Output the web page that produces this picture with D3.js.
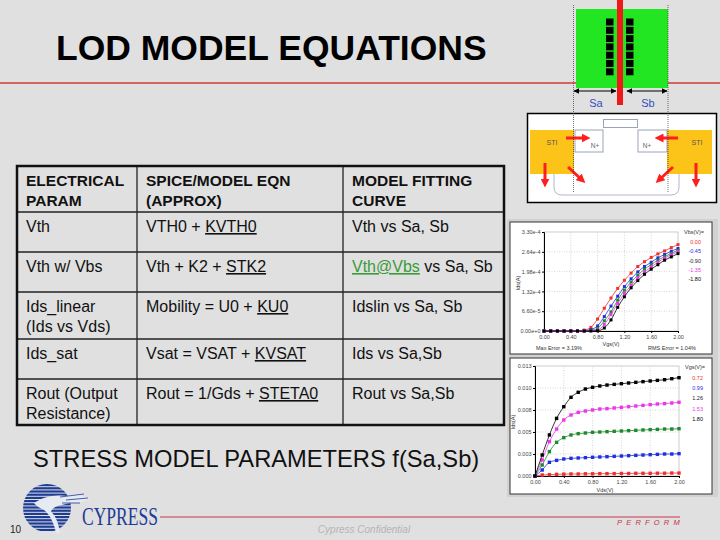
<!DOCTYPE html>
<html>
<head>
<meta charset="utf-8">
<script src="https://cdn.jsdelivr.net/npm/d3@7/dist/d3.min.js"></script>
<style>
  body { margin: 0; background: #e0e0e0; }
  svg { display: block; font-family: "Liberation Sans", Arial, sans-serif; }
</style>
</head>
<body>
<script>
// ---- table content ----
var tableHead = [["ELECTRICAL", "PARAM"], ["SPICE/MODEL EQN", "(APPROX)"], ["MODEL FITTING", "CURVE"]];
var paramCol = [["Vth"], ["Vth w/ Vbs"], ["Ids_linear", "(Ids vs Vds)"], ["Ids_sat"], ["Rout (Output", "Resistance)"]];
var eqnBase = ["VTH0 + ", "Vth + K2 + ", "Mobility = U0 + ", "Vsat = VSAT + ", "Rout = 1/Gds + "];
var eqnParam = ["KVTH0", "STK2", "KU0", "KVSAT", "STETA0"];
var fitLink = ["", "Vth@Vbs", "", "", ""];
var fitText = ["Vth vs Sa, Sb", " vs Sa, Sb", "Idslin vs Sa, Sb", "Ids vs Sa,Sb", "Rout vs Sa,Sb"];

// ---- chart 1: Ids vs Vgs (Ids in units of 1e-4 A) ----
var vgs = [0.0, 0.1, 0.2, 0.3, 0.4, 0.5, 0.6, 0.7, 0.8, 0.9, 1.0, 1.1, 1.2, 1.3, 1.4, 1.5, 1.6, 1.7, 1.8, 1.9, 2.0];
var vbsLabels = ["0.00", "-0.45", "-0.90", "-1.35", "-1.80"];
var idsVbs000 = [0, 0, 0, 0, 0, 0, 0.03, 0.12, 0.40, 0.76, 1.10, 1.42, 1.69, 1.93, 2.15, 2.31, 2.45, 2.57, 2.67, 2.78, 2.88];
var idsVbs045 = [0, 0, 0, 0, 0, 0, 0.01, 0.05, 0.17, 0.48, 0.83, 1.16, 1.48, 1.74, 1.97, 2.15, 2.29, 2.44, 2.55, 2.66, 2.75];
var idsVbs090 = [0, 0, 0, 0, 0, 0, 0, 0.02, 0.09, 0.34, 0.64, 1.03, 1.36, 1.63, 1.86, 2.06, 2.21, 2.36, 2.48, 2.59, 2.69];
var idsVbs135 = [0, 0, 0, 0, 0, 0, 0, 0.01, 0.03, 0.22, 0.55, 0.92, 1.25, 1.52, 1.78, 1.97, 2.14, 2.29, 2.43, 2.54, 2.64];
var idsVbs180 = [0, 0, 0, 0, 0, 0, 0, 0, 0.01, 0.10, 0.37, 0.79, 1.14, 1.44, 1.68, 1.89, 2.06, 2.21, 2.36, 2.47, 2.58];
var ids1Ticks = [0, 0.66, 1.32, 1.98, 2.64, 3.30];
var ids1Labels = ["0.00e+0", "6.60e-5", "1.32e-4", "1.98e-4", "2.64e-4", "3.30e-4"];

// ---- chart 2: Ids vs Vds (A) ----
var vds = [0.0, 0.1, 0.2, 0.3, 0.4, 0.5, 0.6, 0.7, 0.8, 0.9, 1.0, 1.1, 1.2, 1.3, 1.4, 1.5, 1.6, 1.7, 1.8, 1.9, 2.0];
var vgsLabels = ["0.72", "0.99", "1.26", "1.53", "1.80"];
var idsVgs072 = [0, 0.00012, 0.00016, 0.0002, 0.00022, 0.00024, 0.00024, 0.00026, 0.00026, 0.00028, 0.00028, 0.00028, 0.0003, 0.0003, 0.00032, 0.00032, 0.00032, 0.00033, 0.00033, 0.00035, 0.00035];
var idsVgs099 = [0, 0.00071, 0.00162, 0.00185, 0.00201, 0.00209, 0.00213, 0.00217, 0.00221, 0.00225, 0.00228, 0.00232, 0.00236, 0.0024, 0.00244, 0.00248, 0.00252, 0.00256, 0.0026, 0.0026, 0.00264];
var idsVgs126 = [0, 0.0013, 0.00288, 0.00398, 0.00453, 0.00485, 0.005, 0.00508, 0.00516, 0.0052, 0.00524, 0.00528, 0.00532, 0.00536, 0.0054, 0.00544, 0.00548, 0.00551, 0.00555, 0.00555, 0.00559];
var idsVgs153 = [0, 0.00189, 0.00406, 0.00555, 0.00662, 0.00721, 0.00752, 0.00768, 0.0078, 0.00792, 0.00796, 0.00804, 0.00811, 0.00819, 0.00827, 0.00835, 0.00843, 0.00851, 0.00855, 0.00863, 0.00871];
var idsVgs180 = [0, 0.00248, 0.00485, 0.00681, 0.00819, 0.0093, 0.00989, 0.01028, 0.01048, 0.01064, 0.01075, 0.01083, 0.01091, 0.01099, 0.01107, 0.01115, 0.01123, 0.0113, 0.01138, 0.0115, 0.01162];
var ids2Ticks = [0, 0.0026, 0.0052, 0.0078, 0.0104, 0.013];
var ids2Labels = ["0.000", "0.003", "0.005", "0.008", "0.010", "0.013"];

var vTicks = [0, 0.4, 0.8, 1.2, 1.6, 2.0];
var vLabels = ["0.00", "0.40", "0.80", "1.20", "1.60", "2.00"];

var seriesColors = ["#f03030", "#1f2fe0", "#1e8a2e", "#e838e8", "#000000"];
var legendColors = ["#f03030", "#1f2fe0", "#222222", "#e838e8", "#000000"];

var svg = d3.select("body").append("svg")
    .attr("width", 720)
    .attr("height", 540);

svg.append("rect").attr("width", 720).attr("height", 540).attr("fill", "#e0e0e0");

var defs = svg.append("defs");
defs.append("marker").attr("id", "arrBlk")
    .attr("viewBox", "0 0 10 10").attr("refX", 9).attr("refY", 5)
    .attr("markerWidth", 6).attr("markerHeight", 6).attr("orient", "auto-start-reverse")
    .attr("markerUnits", "userSpaceOnUse")
  .append("path").attr("d", "M0,0L10,5L0,10Z").attr("fill", "#000");
defs.append("marker").attr("id", "arrRed")
    .attr("viewBox", "0 0 10 10").attr("refX", 5).attr("refY", 5)
    .attr("markerWidth", 9).attr("markerHeight", 9).attr("orient", "auto")
    .attr("markerUnits", "userSpaceOnUse")
  .append("path").attr("d", "M0,0L10,5L0,10Z").attr("fill", "#ff1e1e");

// ---- title ----
svg.append("line").attr("x1", 0).attr("x2", 720).attr("y1", 83).attr("y2", 83)
    .attr("stroke", "#d03a3a").attr("stroke-width", 1.5);
svg.append("text").attr("x", 56).attr("y", 60)
    .attr("font-size", 35.5).attr("font-weight", "bold").attr("fill", "#000")
    .text("LOD MODEL EQUATIONS");

// ---- layout diagram ----
var diag = svg.append("g");
diag.append("rect").attr("x", 576).attr("y", 9).attr("width", 92).attr("height", 79).attr("fill", "#22e622");
diag.append("rect").attr("x", 617).attr("y", 0).attr("width", 6).attr("height", 105).attr("fill", "#f01818");
d3.range(7).forEach(function(i) {
  diag.append("rect").attr("x", 606).attr("y", 18.5 + i * 8.3).attr("width", 7.5).attr("height", 7).attr("fill", "#000");
  diag.append("rect").attr("x", 626).attr("y", 18.5 + i * 8.3).attr("width", 7.5).attr("height", 7).attr("fill", "#000");
});
diag.append("line").attr("x1", 574).attr("x2", 616).attr("y1", 91).attr("y2", 91)
    .attr("stroke", "#000").attr("stroke-width", 1)
    .attr("marker-start", "url(#arrBlk)").attr("marker-end", "url(#arrBlk)");
diag.append("line").attr("x1", 627).attr("x2", 667).attr("y1", 91).attr("y2", 91)
    .attr("stroke", "#000").attr("stroke-width", 1)
    .attr("marker-start", "url(#arrBlk)").attr("marker-end", "url(#arrBlk)");
diag.append("text").attr("x", 596).attr("y", 107).attr("text-anchor", "middle")
    .attr("font-size", 11).attr("fill", "#3050c0").text("Sa");
diag.append("text").attr("x", 648).attr("y", 107).attr("text-anchor", "middle")
    .attr("font-size", 11).attr("fill", "#3050c0").text("Sb");

// cross-section
diag.append("rect").attr("x", 527.5).attr("y", 113.5).attr("width", 189).attr("height", 89)
    .attr("fill", "#fff").attr("stroke", "#000").attr("stroke-width", 1.5);
diag.append("path").attr("d", "M554,174V187Q554,195 562,195H671Q679,195 679,187V174")
    .attr("fill", "none").attr("stroke", "#b0b8c8").attr("stroke-width", 1);
diag.append("rect").attr("x", 530).attr("y", 130).attr("width", 44).attr("height", 44).attr("fill", "#fcc419");
diag.append("rect").attr("x", 667).attr("y", 130).attr("width", 45).attr("height", 44).attr("fill", "#fcc419");
diag.append("rect").attr("x", 575).attr("y", 130).attr("width", 28).attr("height", 22)
    .attr("fill", "#fff").attr("stroke", "#9aa4b8").attr("stroke-width", 1);
diag.append("rect").attr("x", 638).attr("y", 130).attr("width", 29).attr("height", 22)
    .attr("fill", "#fff").attr("stroke", "#9aa4b8").attr("stroke-width", 1);
diag.append("rect").attr("x", 603.5).attr("y", 119.5).attr("width", 34).attr("height", 8)
    .attr("fill", "#fff").attr("stroke", "#9aa4b8").attr("stroke-width", 1);
diag.append("text").attr("x", 552).attr("y", 145).attr("text-anchor", "middle")
    .attr("font-size", 7).attr("fill", "#555").text("STI");
diag.append("text").attr("x", 697).attr("y", 145).attr("text-anchor", "middle")
    .attr("font-size", 7).attr("fill", "#555").text("STI");
diag.append("text").attr("x", 595).attr("y", 148).attr("text-anchor", "middle")
    .attr("font-size", 6.5).attr("fill", "#666").text("N+");
diag.append("text").attr("x", 647).attr("y", 148).attr("text-anchor", "middle")
    .attr("font-size", 6.5).attr("fill", "#666").text("N+");
[[566, 138, 586, 138], [678, 138, 659, 138], [545, 163, 545, 183], [696, 163, 696, 183],
 [568, 167, 582, 180], [673, 167, 659, 180]].forEach(function(a) {
  diag.append("line").attr("x1", a[0]).attr("y1", a[1]).attr("x2", a[2]).attr("y2", a[3])
      .attr("stroke", "#ff1e1e").attr("stroke-width", 3).attr("marker-end", "url(#arrRed)");
});
diag.append("line").attr("x1", 573.5).attr("x2", 573.5).attr("y1", 5).attr("y2", 193)
    .attr("stroke", "#333").attr("stroke-width", 0.7).attr("stroke-dasharray", "1,1");
diag.append("line").attr("x1", 668).attr("x2", 668).attr("y1", 5).attr("y2", 193)
    .attr("stroke", "#333").attr("stroke-width", 0.7).attr("stroke-dasharray", "1,1");

// ---- table ----
var colX = [17, 137, 343, 504];
var rowY = [166, 212, 252, 292, 339, 379, 425];
var tbl = svg.append("g");
colX.slice(1, 3).forEach(function(x) {
  tbl.append("line").attr("x1", x).attr("x2", x).attr("y1", rowY[0]).attr("y2", rowY[6])
      .attr("stroke", "#222").attr("stroke-width", 1.3);
});
rowY.slice(1, 6).forEach(function(y) {
  tbl.append("line").attr("x1", colX[0]).attr("x2", colX[3]).attr("y1", y).attr("y2", y)
      .attr("stroke", "#222").attr("stroke-width", 1.3);
});
tbl.append("rect").attr("x", colX[0]).attr("y", rowY[0])
    .attr("width", colX[3] - colX[0]).attr("height", rowY[6] - rowY[0])
    .attr("fill", "none").attr("stroke", "#111").attr("stroke-width", 2.5);

function cellLines(col, row, lines, bold) {
  lines.forEach(function(s, i) {
    tbl.append("text").attr("x", colX[col] + 9).attr("y", rowY[row] + 20 + i * 19.5)
        .attr("font-size", bold ? 15.5 : 16).attr("font-weight", bold ? "bold" : "normal")
        .attr("fill", "#111").text(s);
  });
}
tableHead.forEach(function(h, c) { cellLines(c, 0, h, true); });
paramCol.forEach(function(p, r) { cellLines(0, r + 1, p, false); });
eqnBase.forEach(function(e, r) {
  var t = tbl.append("text").attr("x", colX[1] + 9).attr("y", rowY[r + 1] + 20)
      .attr("font-size", 16).attr("fill", "#111");
  t.append("tspan").text(e);
  t.append("tspan").style("text-decoration", "underline").text(eqnParam[r]);
});
fitText.forEach(function(f, r) {
  var t = tbl.append("text").attr("x", colX[2] + 9).attr("y", rowY[r + 1] + 20)
      .attr("font-size", 16).attr("fill", "#111");
  if (fitLink[r]) {
    t.append("tspan").attr("fill", "#3a9a3a").style("text-decoration", "underline").text(fitLink[r]);
  }
  t.append("tspan").text(f);
});

svg.append("text").attr("x", 33).attr("y", 467).attr("font-size", 23.7).attr("fill", "#111")
    .text("STRESS MODEL PARAMETERS f(Sa,Sb)");

// ---- small charts ----
function drawPanel(cfg) {
  var g = svg.append("g");
  g.append("rect").attr("x", cfg.frame[0] - 3).attr("y", cfg.frame[1] - 3)
      .attr("width", cfg.frame[2] + 9).attr("height", cfg.frame[3] + 6).attr("fill", "#d2d2d2");
  g.append("rect").attr("x", cfg.frame[0]).attr("y", cfg.frame[1])
      .attr("width", cfg.frame[2]).attr("height", cfg.frame[3])
      .attr("fill", "#fff").attr("stroke", "#333").attr("stroke-width", 1);

  var x = d3.scaleLinear().domain([0, 2]).range([cfg.px[0], cfg.px[1]]);
  var y = d3.scaleLinear().domain([0, cfg.yTicks[cfg.yTicks.length - 1]]).range([cfg.py[0], cfg.py[1]]);

  g.append("rect").attr("x", cfg.px[0]).attr("y", cfg.py[1])
      .attr("width", cfg.px[1] - cfg.px[0]).attr("height", cfg.py[0] - cfg.py[1])
      .attr("fill", "none").attr("stroke", "#aaa").attr("stroke-width", 0.6);
  g.selectAll(".gx").data(vTicks.slice(1, 5)).enter().append("line")
      .attr("x1", function(d) { return x(d); }).attr("x2", function(d) { return x(d); })
      .attr("y1", cfg.py[0]).attr("y2", cfg.py[1])
      .attr("stroke", "#bbb").attr("stroke-width", 0.6).attr("stroke-dasharray", "1,1.5");
  g.selectAll(".gy").data(cfg.yTicks.slice(1, 5)).enter().append("line")
      .attr("x1", cfg.px[0]).attr("x2", cfg.px[1])
      .attr("y1", function(d) { return y(d); }).attr("y2", function(d) { return y(d); })
      .attr("stroke", "#bbb").attr("stroke-width", 0.6).attr("stroke-dasharray", "1,1.5");

  var xAxis = d3.axisBottom(x).tickValues(vTicks).tickSize(2).tickPadding(2)
      .tickFormat(function(d, i) { return vLabels[i]; });
  var yAxis = d3.axisLeft(y).tickValues(cfg.yTicks).tickSize(2).tickPadding(1.5)
      .tickFormat(function(d, i) { return cfg.yLabels[i]; });
  g.append("g").attr("transform", "translate(0," + cfg.py[0] + ")").call(xAxis)
      .call(function(a) { a.selectAll("text").attr("font-size", 5.5).attr("fill", "#444").attr("font-family", null); });
  g.append("g").attr("transform", "translate(" + cfg.px[0] + ",0)").call(yAxis)
      .call(function(a) { a.selectAll("text").attr("font-size", 5.5).attr("fill", "#444").attr("font-family", null); });

  var line = d3.line()
      .x(function(d) { return x(d[0]); })
      .y(function(d) { return y(d[1]); })
      .curve(d3.curveMonotoneX);

  cfg.series.forEach(function(s, k) {
    var pts = cfg.xs.map(function(v, i) { return [v, s[i]]; });
    g.append("path").datum(pts).attr("d", line)
        .attr("fill", "none").attr("stroke", seriesColors[k]).attr("stroke-width", 0.8);
    g.selectAll(".m" + k).data(pts).enter().append("rect")
        .attr("x", function(d) { return x(d[0]) - cfg.ms / 2; })
        .attr("y", function(d) { return y(d[1]) - cfg.ms / 2; })
        .attr("width", cfg.ms).attr("height", cfg.ms)
        .attr("fill", seriesColors[k]);
  });

  g.append("text").attr("x", cfg.legend[0]).attr("y", cfg.legend[1])
      .attr("font-size", 5.5).attr("fill", "#333").text(cfg.legendTitle);
  cfg.legendLabels.forEach(function(l, k) {
    g.append("text").attr("x", cfg.legend[2]).attr("y", cfg.legend[3] + k * cfg.legend[4])
        .attr("text-anchor", "end").attr("font-size", 5.5).attr("fill", legendColors[k]).text(l);
  });
  g.append("text").attr("x", cfg.xLabel[0]).attr("y", cfg.xLabel[1]).attr("text-anchor", "middle")
      .attr("font-size", 5.5).attr("fill", "#333").text(cfg.xTitle);
  g.append("text").attr("transform", "translate(" + cfg.yLabel[0] + "," + cfg.yLabel[1] + ") rotate(-90)")
      .attr("text-anchor", "middle").attr("font-size", 5.5).attr("fill", "#333").text("Ids(A)");
  return g;
}

var p1 = drawPanel({
  frame: [510, 222, 202, 132],
  px: [544, 678], py: [331, 232],
  yTicks: ids1Ticks, yLabels: ids1Labels,
  xs: vgs, series: [idsVbs000, idsVbs045, idsVbs090, idsVbs135, idsVbs180], ms: 3,
  legendTitle: "Vbs(V)=", legendLabels: vbsLabels, legend: [684, 234, 701, 244, 9.3],
  xTitle: "Vgs(V)", xLabel: [611, 346], yLabel: [520, 283]
});
p1.append("text").attr("x", 536).attr("y", 350).attr("font-size", 5.5).attr("fill", "#333").text("Max Error = 3.19%");
p1.append("text").attr("x", 648).attr("y", 350).attr("font-size", 5.5).attr("fill", "#333").text("RMS Error = 1.04%");

drawPanel({
  frame: [510, 358, 202, 136],
  px: [535, 679], py: [476, 366],
  yTicks: ids2Ticks, yLabels: ids2Labels,
  xs: vds, series: [idsVgs072, idsVgs099, idsVgs126, idsVgs153, idsVgs180], ms: 3.4,
  legendTitle: "Vgs(V)=", legendLabels: vgsLabels, legend: [685, 369, 703, 380, 10.2],
  xTitle: "Vds(V)", xLabel: [605, 492], yLabel: [515, 422]
});

// ---- footer ----
var logo = svg.append("g");
defs.append("clipPath").attr("id", "globe").append("circle").attr("cx", 47).attr("cy", 508).attr("r", 24);
var stripes = logo.append("g").attr("clip-path", "url(#globe)");
d3.range(484, 533, 3.2).forEach(function(yy) {
  stripes.append("rect").attr("x", 20).attr("y", yy).attr("width", 60).attr("height", 2.2).attr("fill", "#1c3c96");
});
logo.append("path")
    .attr("d", "M34,503C42,497 55,494 66,496L80,495L90,499L82,502L70,503L62,505C56,506 52,508 51,512C55,515 58,521 60,533L56,533C54,523 50,515 44,510C40,508 36,506 34,503Z")
    .attr("fill", "#e6eaf2");
logo.append("path").attr("d", "M60,497L84,494M66,500L88,498M62,503L80,503")
    .attr("stroke", "#1c3c96").attr("stroke-width", 0.8).attr("fill", "none");
logo.append("text").attr("x", 82).attr("y", 525).attr("font-family", "Liberation Serif, serif")
    .attr("font-size", 25).attr("fill", "#1c3c96")
    .attr("textLength", 76).attr("lengthAdjust", "spacingAndGlyphs").text("CYPRESS");
svg.append("line").attr("x1", 160).attr("x2", 680).attr("y1", 517).attr("y2", 517)
    .attr("stroke", "#c8344a").attr("stroke-width", 1);
svg.append("text").attr("x", 617).attr("y", 525).attr("font-size", 7.5).attr("font-style", "italic")
    .attr("fill", "#c8344a").attr("letter-spacing", 4.2).text("PERFORM");
svg.append("text").attr("x", 364).attr("y", 533).attr("text-anchor", "middle").attr("font-size", 10)
    .attr("font-style", "italic").attr("fill", "#b4b4b4").text("Cypress Confidential");
svg.append("text").attr("x", 10).attr("y", 533).attr("font-size", 10).attr("fill", "#222").text("10");
</script>
</body>
</html>
